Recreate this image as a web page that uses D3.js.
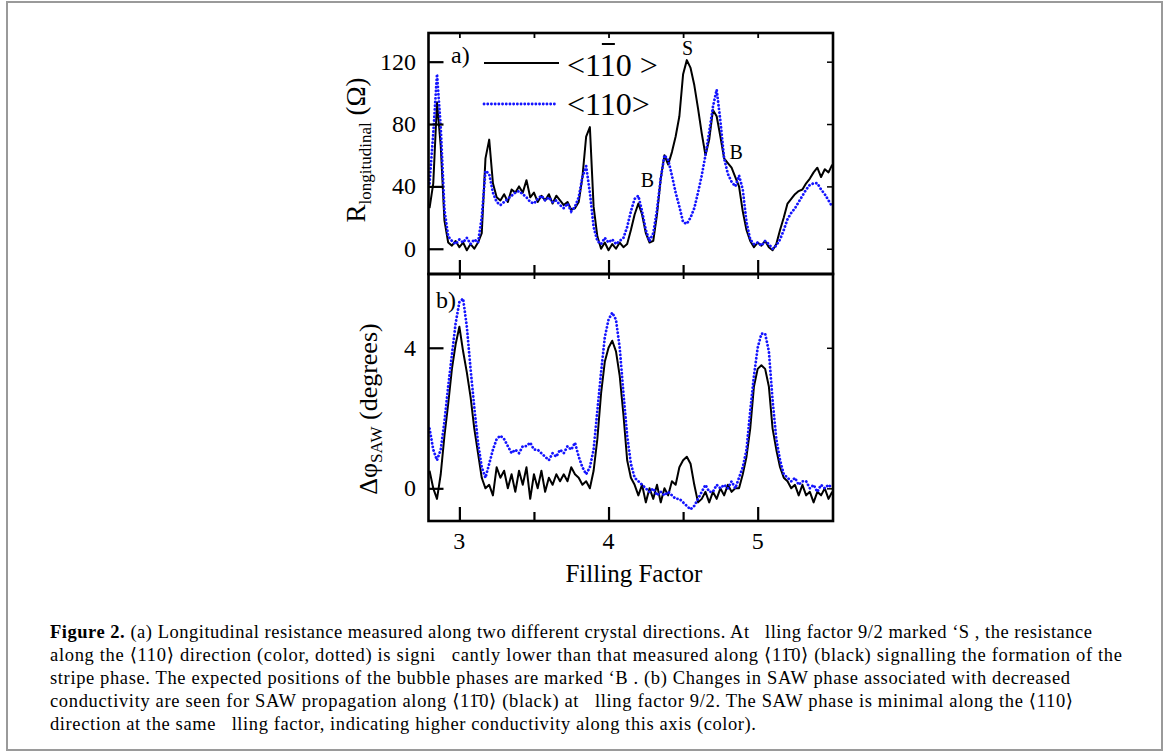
<html><head>
<title>Figure 2 - filling factor</title>
<script src="https://d3js.org/d3.v7.min.js"></script>
<style>
  body { margin: 0; background: white; }
  svg text { font-family: "Liberation Serif", "DejaVu Serif", serif; }
</style>
</head>
<body>
<svg id="fig" width="1169" height="755"></svg>

<script>
  // filling factor grid (0.025 steps, 2.80 .. 5.50)
  const fillingFactor = d3.range(109).map(i => +(2.8 + i * 0.025).toFixed(3));

  // (a) R_longitudinal, Ohm
  const rHardAxis = [26,42,94,66,18,4,2,5,1,4,-1,3,0,4,10,58,70,42,33,31,35,30,38,36,40,36,44,33,36,30,34,31,35,29,34,31,28,30,25,26,30,46,72,78,27,8,0,4,-1,3,0,4,1,3,12,22,29,22,10,4,5,22,45,60,54,62,72,85,112,121,116,105,90,74,60,70,89,85,72,58,55,52,46,40,24,12,5,1,4,2,5,1,-1,3,12,20,29,32,35,37,38,42,45,49,52,46,51,49,54];
  const rEasyAxis = [42,74,112,78,25,8,5,3,6,4,7,3,6,4,20,50,48,36,30,28,30,32,34,36,37,35,33,30,29,32,34,31,33,30,31,28,26,29,24,27,33,46,53,36,14,5,3,7,4,6,3,5,7,14,24,32,34,24,12,5,10,25,45,60,57,47,36,27,17,16,20,26,36,47,60,75,91,102,82,58,48,43,40,47,38,17,6,3,4,2,5,3,0,2,6,12,19,23,26,30,34,38,41,42,42,38,35,31,27];

  // (b) SAW phase change, degrees
  const phaseHardAxis = [0.5,0.0,-0.3,0.4,1.5,2.4,3.4,4.1,4.6,3.9,3.3,2.6,1.7,1.0,0.3,0.0,0.1,-0.2,0.6,0.3,0.5,0.0,0.4,-0.1,0.5,0.1,0.6,-0.3,0.4,0.0,0.5,-0.1,0.3,0.1,0.4,0.2,0.4,0.2,0.6,0.4,0.3,0.1,0.2,0.0,0.5,1.4,2.7,3.6,4.0,4.2,3.9,3.2,2.1,0.8,0.3,0.1,-0.2,0.1,-0.4,0.0,-0.3,0.1,-0.4,0.0,-0.2,0.2,0.1,0.6,0.8,0.9,0.7,0.1,-0.4,-0.3,-0.1,-0.4,-0.1,-0.3,0.0,-0.2,0.1,-0.1,0.0,0.0,0.4,0.9,1.7,2.9,3.4,3.5,3.4,2.9,1.7,1.1,0.6,0.3,0.2,0.0,0.1,-0.2,0.1,-0.2,-0.1,-0.4,-0.1,-0.2,0.0,-0.3,-0.1];
  const phaseEasyAxis = [1.7,1.1,0.8,1.1,1.9,2.9,3.8,4.7,5.3,5.4,4.6,3.4,2.3,1.3,0.6,0.3,0.7,1.1,1.4,1.5,1.4,1.2,1.0,1.1,1.0,1.2,1.2,1.3,1.1,1.1,1.0,0.9,0.8,1.0,0.9,1.1,1.0,1.2,1.1,1.3,0.9,0.6,0.4,0.6,1.1,2.2,3.3,4.3,4.8,5.0,4.8,4.0,2.7,1.5,0.7,0.3,0.2,0.1,0.0,-0.1,0.0,-0.2,-0.1,-0.2,-0.1,-0.2,-0.3,-0.3,-0.4,-0.5,-0.6,-0.5,-0.3,-0.1,0.1,-0.1,-0.1,0.1,0.0,0.1,0.0,0.2,0.0,0.3,0.6,1.1,2.2,3.2,4.0,4.4,4.4,3.9,2.5,1.4,0.8,0.4,0.3,0.2,0.3,0.1,0.2,0.2,0.0,0.1,-0.1,0.1,0.0,0.1,0.0];

  const xTicks = [3, 4, 5];
  const xMinor = [3.5, 4.5];
  const rTicks = [0, 40, 80, 120];
  const phaseTicks = [0, 4];

  const gap = "\u00A0\u00A0\u00A0";
  const captionLines = [
    " (a) Longitudinal resistance measured along two different crystal directions. At" + gap + "lling factor 9/2 marked \u2018S , the resistance",
    "along the \u27E8110\u27E9 direction (color, dotted) is signi" + gap + "cantly lower than that measured along \u27E811\u03040\u27E9 (black) signalling the formation of the",
    "stripe phase. The expected positions of the bubble phases are marked \u2018B . (b) Changes in SAW phase associated with decreased",
    "conductivity are seen for SAW propagation along \u27E811\u03040\u27E9 (black) at" + gap + "lling factor 9/2. The SAW phase is minimal along the \u27E8110\u27E9",
    "direction at the same" + gap + "lling factor, indicating higher conductivity along this axis (color)."
  ];
  const captionWidths = [1042, 1072, 1020, 1023, 706];

  const svg = d3.select("svg#fig");
  const blue = "#1414ff";

  // page frame
  svg.append("rect").attr("x", 7).attr("y", 2).attr("width", 1155).attr("height", 748)
    .attr("fill", "none").attr("stroke", "#9a9a9a").attr("stroke-width", 2);

  const left = 428.5, right = 833;
  const x = d3.scaleLinear().domain([2.793, 5.505]).range([left, right]);
  const yTop = d3.scaleLinear().domain([-16.2, 138.4]).range([274, 33]);
  const yBot = d3.scaleLinear().domain([-0.93, 6.1]).range([521, 274]);

  svg.append("defs").selectAll("clipPath").data([["clipA", 33, 241], ["clipB", 274, 247]])
    .join("clipPath").attr("id", d => d[0])
    .append("rect").attr("x", left).attr("y", d => d[1]).attr("width", right - left).attr("height", d => d[2]);

  function drawPanel(y, clip, hard, easy, yTicks) {
    const line = d3.line().x((d, i) => x(fillingFactor[i])).y(d => y(d));
    const g = svg.append("g").attr("clip-path", `url(#${clip})`);
    g.append("path").datum(hard)
      .attr("fill", "none").attr("stroke", "black").attr("stroke-width", 2)
      .attr("stroke-linejoin", "round").attr("d", line);
    g.append("path").datum(easy)
      .attr("fill", "none").attr("stroke", blue).attr("stroke-width", 2.8)
      .attr("stroke-dasharray", "0.1 3.6").attr("stroke-linecap", "round").attr("d", line);

    const [y0, y1] = y.range();
    // left ticks + labels
    svg.append("g").attr("transform", `translate(${left},0)`)
      .call(d3.axisRight(y).tickValues(yTicks).tickSize(15).tickFormat(""))
      .call(a => a.select(".domain").remove())
      .call(a => a.selectAll("line").attr("stroke-width", 2.2));
    svg.append("g").selectAll("text").data(yTicks).join("text")
      .attr("x", 416).attr("y", d => y(d) + 8)
      .attr("text-anchor", "end").attr("font-size", 24).text(d => d);
    // right ticks
    svg.append("g").attr("transform", `translate(${right},0)`)
      .call(d3.axisLeft(y).tickValues(yTicks).tickSize(6).tickFormat(""))
      .call(a => a.select(".domain").remove())
      .call(a => a.selectAll("line").attr("stroke-width", 1.5));
    // bottom ticks (inward)
    svg.append("g").attr("transform", `translate(0,${y0})`)
      .call(d3.axisTop(x).tickValues(xTicks).tickSize(14).tickFormat(""))
      .call(a => a.select(".domain").remove())
      .call(a => a.selectAll("line").attr("stroke-width", 2.2));
    svg.append("g").attr("transform", `translate(0,${y0})`)
      .call(d3.axisTop(x).tickValues(xMinor).tickSize(9).tickFormat(""))
      .call(a => a.select(".domain").remove())
      .call(a => a.selectAll("line").attr("stroke-width", 2.2));
    // top ticks (inward, short)
    svg.append("g").attr("transform", `translate(0,${y1})`)
      .call(d3.axisBottom(x).tickValues(xTicks.concat(xMinor)).tickSize(5).tickFormat(""))
      .call(a => a.select(".domain").remove())
      .call(a => a.selectAll("line").attr("stroke-width", 1.8));
    // frame
    svg.append("rect").attr("x", left).attr("y", y1).attr("width", right - left).attr("height", y0 - y1)
      .attr("fill", "none").attr("stroke", "black").attr("stroke-width", 2.6);
  }

  drawPanel(yTop, "clipA", rHardAxis, rEasyAxis, rTicks);
  drawPanel(yBot, "clipB", phaseHardAxis, phaseEasyAxis, phaseTicks);

  // x tick labels + title
  svg.append("g").selectAll("text").data(xTicks).join("text")
    .attr("x", d => x(d)).attr("y", 549).attr("text-anchor", "middle").attr("font-size", 24).text(d => d);
  svg.append("text").attr("x", x(4.17)).attr("y", 582).attr("text-anchor", "middle")
    .attr("font-size", 25).text("Filling Factor");

  // y titles
  const ta = svg.append("text").attr("transform", "translate(365,150) rotate(-90)")
    .attr("text-anchor", "middle").attr("font-size", 27);
  ta.append("tspan").text("R");
  ta.append("tspan").attr("font-size", 17).attr("dy", 6).text("longitudinal");
  ta.append("tspan").attr("dy", -6).text(" (\u03A9)");

  const tb = svg.append("text").attr("transform", "translate(377,409) rotate(-90)")
    .attr("text-anchor", "middle").attr("font-size", 26);
  tb.append("tspan").text("\u0394\u03C6");
  tb.append("tspan").attr("font-size", 17).attr("dy", 5).text("SAW");
  tb.append("tspan").attr("dy", -5).text(" (degrees)");

  // panel labels and markers
  svg.append("text").attr("x", 451).attr("y", 63).attr("font-size", 24).text("a)");
  svg.append("text").attr("x", 436).attr("y", 308).attr("font-size", 24).text("b)");
  svg.append("text").attr("x", x(4.53)).attr("y", 55).attr("text-anchor", "middle").attr("font-size", 20).text("S");
  svg.append("text").attr("x", x(4.26)).attr("y", 187).attr("text-anchor", "middle").attr("font-size", 20).text("B");
  svg.append("text").attr("x", x(4.855)).attr("y", 159).attr("text-anchor", "middle").attr("font-size", 20).text("B");

  // legend
  svg.append("line").attr("x1", 484).attr("x2", 559).attr("y1", 63).attr("y2", 63)
    .attr("stroke", "black").attr("stroke-width", 2);
  svg.append("line").attr("x1", 484).attr("x2", 557).attr("y1", 104).attr("y2", 104)
    .attr("stroke", blue).attr("stroke-width", 2.8)
    .attr("stroke-dasharray", "0.1 3.6").attr("stroke-linecap", "round");
  const legA = svg.append("text").attr("x", 567).attr("y", 76).attr("font-size", 32)
    .text("<110\u00A0>");
  svg.append("text").attr("x", 567).attr("y", 115).attr("font-size", 32).text("<110>");
  // overbar on the second "1"
  const n = legA.node();
  const b0 = n.getStartPositionOfChar(2).x, b1 = n.getEndPositionOfChar(2).x;
  svg.append("line").attr("x1", b0 + 2).attr("x2", b1 - 1).attr("y1", 44).attr("y2", 44)
    .attr("stroke", "black").attr("stroke-width", 2);

  // caption
  const cap = svg.append("g").attr("font-size", 18.5);
  cap.selectAll("text").data(captionLines).join("text")
    .attr("x", 50).attr("y", (d, i) => 638 + i * 23)
    .attr("textLength", (d, i) => captionWidths[i]).attr("lengthAdjust", "spacing")
    .each(function(d, i) {
      const t = d3.select(this);
      if (i === 0) t.append("tspan").attr("font-weight", "bold").text("Figure 2.");
      t.append("tspan").text(d);
    });
</script>
</body>
</html>
